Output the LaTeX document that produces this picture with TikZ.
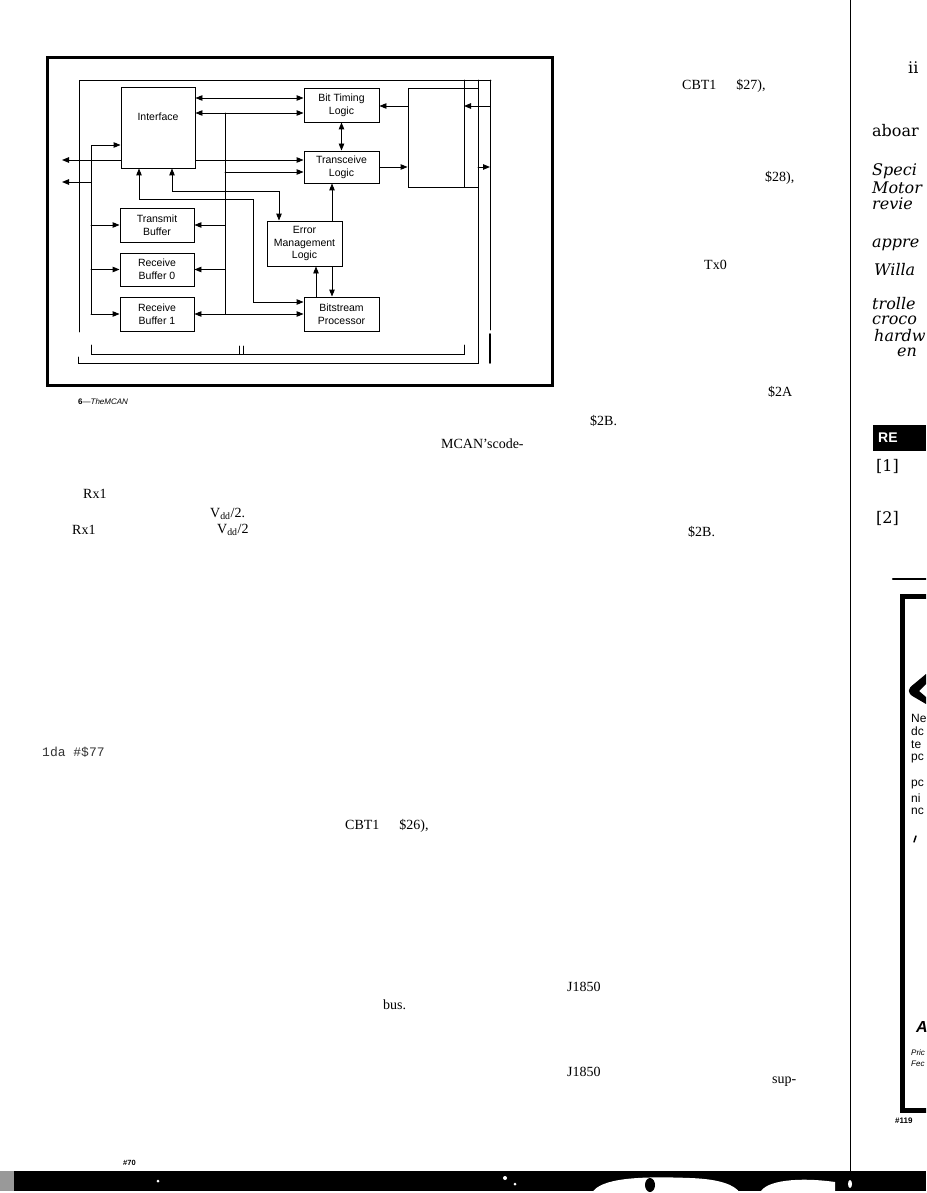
\documentclass[tikz,border=0pt]{standalone}
\usepackage{fontspec}
\setmainfont{Liberation Serif}
\setsansfont{Liberation Sans}
\setmonofont{Liberation Mono}
\newfontfamily\sidefont{DejaVu Serif}
\usetikzlibrary{arrows.meta}

\begin{document}
\begin{tikzpicture}[x=1pt, y=-1pt, line cap=round, >={Triangle[length=7pt,width=5.5pt]},
  blk/.style={draw, line width=.9pt, inner sep=0pt, align=center, font=\sffamily\fontsize{10.5}{12.8}\selectfont},
  wire/.style={line width=.9pt},
  body/.style={anchor=west, inner sep=0pt, font=\fontsize{14}{16}\selectfont},
  side/.style={anchor=west, inner sep=0pt, font=\sidefont\fontsize{16}{18}\selectfont},
  sidei/.style={anchor=west, inner sep=0pt, font=\sidefont\itshape\fontsize{16}{18}\selectfont},
  ad/.style={anchor=west, inner sep=0pt, font=\sffamily\fontsize{12}{14}\selectfont}]

\useasboundingbox (0,0) rectangle (926,1193);
\clip (0,0) rectangle (926,1193);

\draw[line width=3pt] (47,58) rectangle (552,385);

\draw[wire] (79,332) -- (79,80) -- (491,80);
\draw[wire] (464,80) -- (464,187);
\draw[wire] (478,80) -- (478,363) -- (78,363) -- (78,357);
\draw[wire] (490,80) -- (490,330);
\draw[line width=1.6pt] (490,334) -- (490,363);
\draw[wire] (91,345) -- (91,354) -- (464,354) -- (464,345);
\draw[wire] (239,346) -- (239,354);
\draw[wire] (243,346) -- (243,354);

\node[blk, minimum width=74pt, minimum height=81pt] (iface) at (158,127.5) {};
\node[inner sep=0pt, font=\sffamily\fontsize{10.5}{12.8}\selectfont] (ifacetxt) at (158,117) {Interface};
\node[blk, minimum width=75pt, minimum height=34pt] (btl) at (341.5,105) {Bit Timing\\Logic};
\node[blk, minimum width=75pt, minimum height=32pt] (trx) at (341.5,167) {Transceive\\Logic};
\node[blk, minimum width=74pt, minimum height=34pt] (txb) at (157,225) {Transmit\\Buffer};
\node[blk, minimum width=74pt, minimum height=33pt] (rbz) at (157,269.5) {Receive\\Buffer 0};
\node[blk, minimum width=74pt, minimum height=34pt] (rbo) at (157,314) {Receive\\Buffer 1};
\node[blk, minimum width=75pt, minimum height=45pt] (eml) at (304.5,243.5) {Error\\Management\\Logic};
\node[blk, minimum width=75pt, minimum height=34pt] (bsp) at (341.5,314) {Bitstream\\Processor};
\node[blk, minimum width=70pt, minimum height=99pt] (rbox) at (443,137.5) {};

\coordinate (lbus) at (91,145);
\coordinate (ibus) at (225,113);
\coordinate (outa) at (62,160);
\coordinate (outb) at (62,182);
\coordinate (inr) at (490,106);
\coordinate (outr) at (490,167);

\draw[wire,->] (lbus |- rbo.west) -- (lbus) -- (iface.west |- lbus);
\draw[wire,->] (lbus |- txb.west) -- (txb.west);
\draw[wire,->] (lbus |- rbz.west) -- (rbz.west);
\draw[wire,->] (lbus |- rbo.west) -- (rbo.west);
\draw[wire,->] (iface.west |- outa) -- (outa);
\draw[wire,->] (lbus |- outb) -- (outb);

\draw[wire,<->] (iface.east |- 0,98) -- (btl.west |- 0,98);
\draw[wire,<->] (iface.east |- ibus) -- (btl.west |- ibus);
\draw[wire] (ibus) -- (ibus |- rbo.east);
\draw[wire,->] (iface.east |- 0,160) -- (trx.west |- 0,160);
\draw[wire,->] (ibus |- 0,172) -- (trx.west |- 0,172);
\draw[wire,->] (ibus |- txb.east) -- (txb.east);
\draw[wire,->] (ibus |- rbz.east) -- (rbz.east);
\draw[wire,<->] (rbo.east) -- (bsp.west);

\draw[wire,<->] (iface.south -| 139,0) -- (139,199) -| (253,302) -- (bsp.west |- 0,302);
\draw[wire,<->] (iface.south -| 172,0) |- (279,191) -- (eml.north -| 279,0);

\draw[wire,<->] (btl.south) -- (trx.north);
\draw[wire,->] (eml.north -| 332,0) -- (trx.south -| 332,0);
\draw[wire,->] (bsp.north -| 316,0) -- (eml.south -| 316,0);
\draw[wire,->] (eml.south -| 332,0) -- (bsp.north -| 332,0);
\draw[wire,->] (rbox.west |- 0,106) -- (btl.east |- 0,106);
\draw[wire,->] (trx.east) -- (rbox.west |- trx.east);
\draw[wire,->] (inr) -- (inr -| 464,0);
\draw[wire,->] (outr -| 478,0) -- (outr);

\node[anchor=west, inner sep=0pt, font=\sffamily\fontsize{8}{9}\selectfont] (cap) at (78,402) {\textbf{6}---\textit{TheMCAN}};

\node[body] (cbta) at (682,86) {CBT1\hspace{20pt}\$27),};
\node[body] (dsb) at (765,178) {\$28),};
\node[body] (txz) at (704,265) {Tx0};
\node[body] (dsa) at (768,392) {\$2A};
\node[body] (dbb) at (590,421) {\$2B.};
\node[body] (mcan) at (441,444) {MCAN’scode-};
\node[body] (rxa) at (83,494) {Rx1};
\node[body] (vdda) at (210,514) {V\textsubscript{dd}/2.};
\node[body] (rxb) at (72,530) {Rx1};
\node[body] (vddb) at (217,530) {V\textsubscript{dd}/2};
\node[body] (dbc) at (688,532) {\$2B.};
\node[anchor=west, inner sep=0pt, font=\ttfamily\fontsize{13}{15}\selectfont, black!80] (lda) at (42,752) {1da \#\$77};
\node[body] (cbtb) at (345,826) {CBT1\hspace{20pt}\$26),};
\node[body] (jone) at (567,987) {J1850};
\node[body] (bus) at (383,1005) {bus.};
\node[body] (jtwo) at (567,1072) {J1850};
\node[body] (sup) at (772,1082) {sup-};
\node[anchor=west, inner sep=0pt, font=\sffamily\bfseries\fontsize{7.5}{9}\selectfont] (pgno) at (123,1163) {\#70};

\draw[line width=1pt] (850,0) -- (850,1171);

\node[side] (cii) at (908,68) {ii};
\node[side] (cabo) at (872,131) {aboar};
\node[sidei] (cspe) at (872,171) {Speci};
\node[sidei] (cmot) at (872,188) {Motor};
\node[sidei] (crev) at (872,204) {revie};
\node[sidei] (capp) at (872,245) {appre};
\node[sidei] (cwil) at (874,270) {Willa};
\node[sidei] (ctro) at (872,304) {trolle};
\node[sidei] (ccro) at (872,320) {croco};
\node[sidei] (char) at (874,336) {hardw};
\node[sidei] (cen) at (897,352) {en};
\fill (873,425) rectangle (926,451);
\node[anchor=west, inner sep=0pt, white, font=\sffamily\bfseries\fontsize{14}{16}\selectfont] (cref) at (878,438) {RE};
\node[side] (crone) at (876,466) {[1]};
\node[side] (crtwo) at (876,518) {[2]};

\draw[line width=2.5pt] (893,579) -- (926,579);
\draw[line width=5pt] (926,596) -- (902,596) -- (902,1110) -- (926,1110);
\fill (926,674) -- (914,684) .. controls (907,689) and (907,693) .. (914,697) -- (926,704) -- (926,697) -- (919,691) -- (926,684) -- cycle;
\node[ad] (ane) at (911,718) {Ne};
\node[ad] (adc) at (911,731) {dc};
\node[ad] (ate) at (911,745) {te};
\node[ad] (apc) at (911,759) {pc};
\node[ad] (apd) at (911,785) {pc};
\node[ad] (ani) at (911,798) {ni};
\node[ad] (anc) at (911,811) {nc};
\draw[line width=1.5pt] (914,842) -- (916,836);
\node[anchor=west, inner sep=0pt, font=\sffamily\bfseries\itshape\fontsize{16}{18}\selectfont] (alogo) at (916,1027) {A};
\node[anchor=west, inner sep=0pt, font=\sffamily\itshape\fontsize{8}{9}\selectfont] (apri) at (911,1053) {Pric};
\node[anchor=west, inner sep=0pt, font=\sffamily\itshape\fontsize{8}{9}\selectfont] (afed) at (911,1064) {Fec};
\node[anchor=west, inner sep=0pt, font=\sffamily\bfseries\fontsize{8}{9}\selectfont] (ano) at (895,1121) {\#119};

\fill (0,1171) rectangle (926,1191);
\fill[black!40] (0,1171) rectangle (14,1191);
\fill[white] (158,1181) circle (1.5);
\fill[white] (505,1178) circle (2);
\fill[white] (515,1184) circle (1.5);
\fill[white] (592,1193) .. controls (600,1178) and (640,1176) .. (690,1178) .. controls (720,1179) and (735,1185) .. (740,1193) -- cycle;
\fill (650,1185) ellipse (5 and 7);
\fill[white] (760,1193) .. controls (765,1180) and (800,1177) .. (835,1182) -- (835,1193) -- cycle;
\fill[white] (850,1184) ellipse (2 and 4);

\end{tikzpicture}
\end{document}
